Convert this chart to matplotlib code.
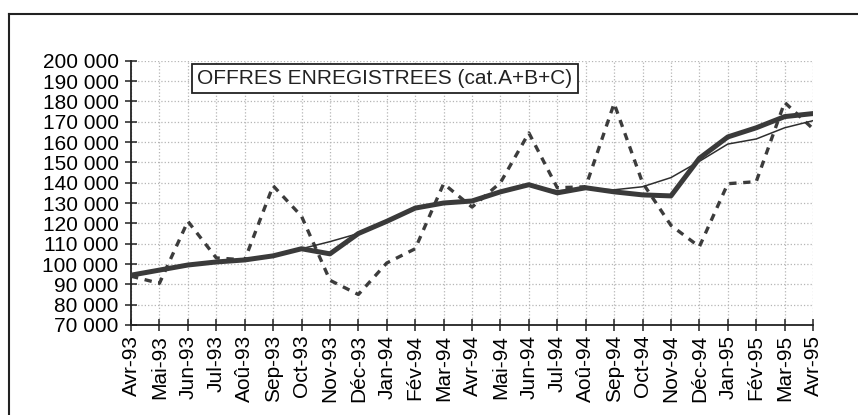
import matplotlib.pyplot as plt
from matplotlib.lines import Line2D
import numpy as np

plt.rcParams['font.family'] = ['Liberation Sans', 'DejaVu Sans']

mois = ["Avr-93", "Mai-93", "Jun-93", "Jul-93", "Aoû-93", "Sep-93", "Oct-93", "Nov-93",
        "Déc-93", "Jan-94", "Fév-94", "Mar-94", "Avr-94", "Mai-94", "Jun-94", "Jul-94",
        "Aoû-94", "Sep-94", "Oct-94", "Nov-94", "Déc-94", "Jan-95", "Fév-95", "Mar-95",
        "Avr-95"]

# offres brutes (mensuel)
brut = [94000, 90500, 121000, 103000, 102000, 138500, 123500, 92000,
        85000, 100500, 107500, 139500, 128000, 140000, 164500, 137500,
        138000, 179000, 140000, 119000, 108500, 139500, 140500, 179500,
        166500]

# serie lissee (trait epais)
lisse = [94500, 97000, 99500, 101000, 102000, 104000, 107500, 105000,
         115000, 121000, 127500, 130000, 131000, 135500, 139000, 135000,
         137500, 135500, 134000, 133500, 152000, 162500, 167000, 172500,
         174000]

# tendance (trait fin)
tendance = [94000, 97000, 99500, 101000, 102000, 104000, 107500, 111000,
            115000, 121000, 127500, 130000, 131000, 135500, 138500, 136000,
            137000, 136500, 138000, 142500, 150500, 159000, 161500, 167000,
            170500]

x = np.arange(len(mois))

fig = plt.figure(figsize=(8.58, 4.15), dpi=100)
ax = fig.add_axes([0.1527, 0.2169, 0.7949, 0.6368])

ax.plot(x, brut, color='#3c3c3c', lw=2.4, ls=(0, (2.2, 2.0)), zorder=2)
ax.plot(x, tendance, color='#2e2e2e', lw=1.1, zorder=3)
ax.plot(x, lisse, color='#3a3a3a', lw=3.6, solid_capstyle='round', zorder=4)

ax.set_xlim(0, 24)
ax.set_ylim(70000, 200000)
ax.set_yticks(np.arange(70000, 200001, 10000))
ax.set_yticklabels([f"{v//1000} 000" for v in range(70000, 200001, 10000)], fontsize=15)
ax.set_xticks(x)
ax.set_xticklabels(mois, rotation=90, fontsize=15)

ax.grid(True, color='#b5b5b5', ls=':', lw=0.9)
ax.set_axisbelow(True)
for s in ['top', 'right']:
    ax.spines[s].set_visible(False)
for s in ['left', 'bottom']:
    ax.spines[s].set_color('#222222')
    ax.spines[s].set_linewidth(1.3)
ax.tick_params(direction='inout', length=8, width=1.1, color='#222222')
ax.tick_params(axis='y', pad=5)
ax.tick_params(axis='x', pad=3)

ax.text(0.097, 0.933, "OFFRES ENREGISTREES (cat.A+B+C)", transform=ax.transAxes,
        fontsize=15, va='center', ha='left', color='#222222',
        bbox=dict(boxstyle='square,pad=0.25', fc='white', ec='#222222', lw=1.3))

# cadre du document
fig.add_artist(Line2D([9/858, 1.0], [1 - 14/415, 1 - 14/415], color='#222222', lw=1.5))
fig.add_artist(Line2D([9/858, 9/858], [0.0, 1 - 14/415], color='#222222', lw=1.5))

fig.savefig("out.png", dpi=100)
